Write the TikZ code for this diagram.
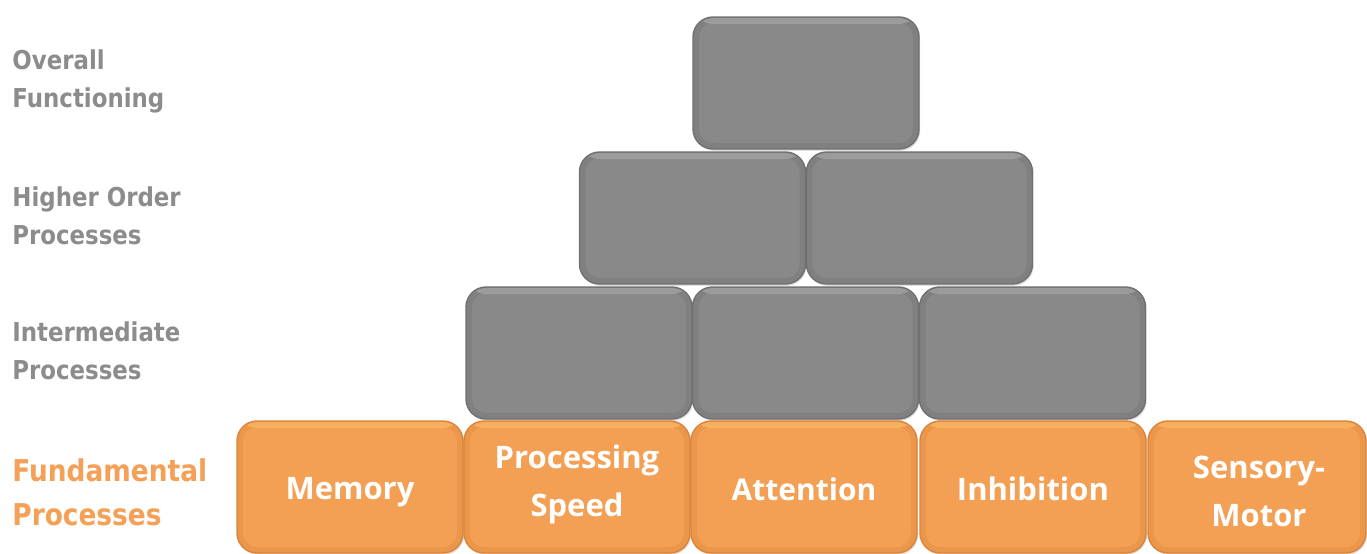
\documentclass[tikz,border=0pt]{standalone}
\usepackage{fontspec}
\setmainfont{Open Sans}
\newfontfamily\labfont[FakeStretch=0.88]{DejaVu Sans}
\usetikzlibrary{shadows}
\definecolor{boxorange}{RGB}{243,160,85}
\definecolor{orangeedge}{RGB}{220,132,58}
\definecolor{orangelight}{RGB}{255,196,110}
\definecolor{boxgray}{RGB}{137,137,137}
\definecolor{grayedge}{RGB}{112,112,112}
\definecolor{graylight}{RGB}{178,178,178}
\definecolor{labgray}{RGB}{140,140,140}
\definecolor{laborange}{RGB}{244,160,86}
\begin{document}
\begin{tikzpicture}[x=0.5pt,y=-0.5pt,
  block/.style={rectangle, rounded corners=10pt, minimum width=113pt,
    minimum height=66pt, inner sep=0pt, align=center, line width=0.7pt,
    drop shadow={opacity=0.25, shadow xshift=0.6pt, shadow yshift=-0.9pt}},
  orangeblock/.style={block, fill=boxorange, draw=orangeedge,
    path picture={
      \draw[orangeedge, opacity=0.35, line width=6pt, rounded corners=10pt]
        (path picture bounding box.north west) rectangle (path picture bounding box.south east);
      \fill[orangelight, opacity=0.55]
        ([yshift=-0.5pt]path picture bounding box.north west) rectangle ([yshift=-3.5pt]path picture bounding box.north east);
    }},
  grayblock/.style={block, fill=boxgray, draw=grayedge,
    path picture={
      \draw[grayedge, opacity=0.35, line width=6pt, rounded corners=10pt]
        (path picture bounding box.north west) rectangle (path picture bounding box.south east);
      \fill[graylight, opacity=0.55]
        ([yshift=-0.5pt]path picture bounding box.north west) rectangle ([yshift=-3.5pt]path picture bounding box.north east);
    }},
  boxtext/.style={text=white, inner sep=0pt, align=center,
    font=\bfseries\fontsize{15.5}{24}\selectfont},
  graylabel/.style={anchor=west, align=left, text=labgray, inner sep=0pt,
    font=\labfont\bfseries\fontsize{13}{19}\selectfont},
  orangelabel/.style={anchor=west, align=left, text=laborange, inner sep=0pt,
    font=\labfont\bfseries\fontsize{15}{22}\selectfont}
]
\useasboundingbox (0,0) rectangle (1367,553);
\fill[white] (0,0) rectangle (1367,553);

% level labels
\node[graylabel] (lOverall) at (12,81) {Overall\\Functioning};
\node[graylabel] (lHigher) at (12,216) {Higher Order\\Processes};
\node[graylabel] (lInter) at (12,351) {Intermediate\\Processes};
\node[orangelabel] (lFund) at (12,492) {Fundamental\\Processes};

% top level
\node[grayblock] (top) at (806,83) {};

% higher order
\node[grayblock] (h1) at (692.5,218) {};
\node[grayblock] (h2) at (919.5,218) {};

% intermediate
\node[grayblock] (i1) at (579,353) {};
\node[grayblock] (i2) at (805.5,353) {};
\node[grayblock] (i3) at (1032.5,353) {};

% fundamental
\node[orangeblock] (memory) at (350,487) {};
\node[boxtext] (memorytext) at (350,492) {Memory};
\node[orangeblock] (speed) at (577,487) {};
\node[boxtext] (speedtext) at (577,484) {Processing\\Speed};
\node[orangeblock] (attention) at (804,487) {};
\node[boxtext, font=\bfseries\fontsize{15}{24}\selectfont] (attentiontext) at (804,489) {Attention};
\node[orangeblock] (inhibition) at (1033,487) {};
\node[boxtext] (inhibitiontext) at (1033,489) {Inhibition};
\node[orangeblock, minimum width=109pt] (sensory) at (1257,487) {};
\node[boxtext] (sensorytext) at (1259,491) {Sensory-\\Motor};
\end{tikzpicture}
\end{document}
